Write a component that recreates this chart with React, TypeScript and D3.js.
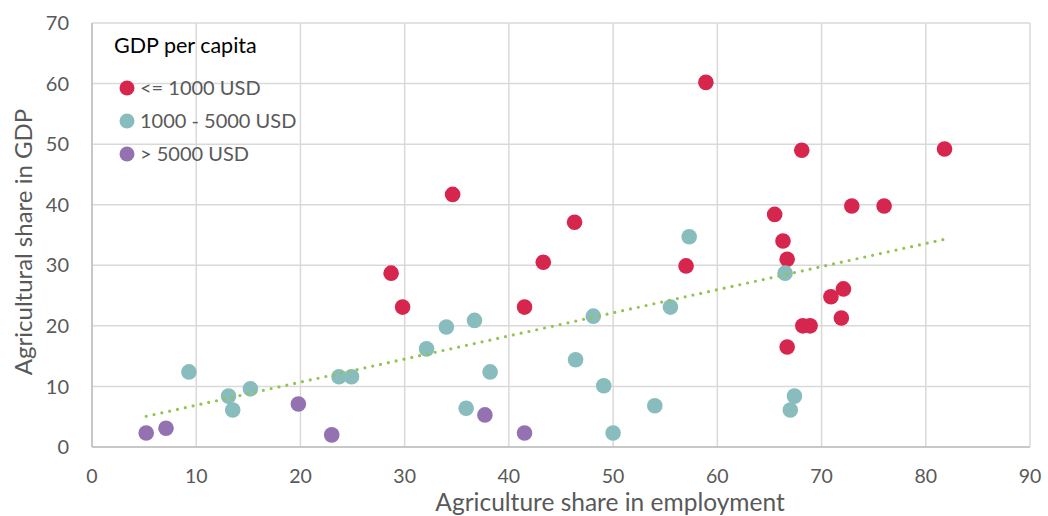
import React from 'react';
import * as d3 from 'd3';

// employment share (x) / GDP share (y) per income group
const lowX = [28.7, 29.8, 34.6, 41.5, 43.3, 46.3, 57.0, 58.9, 68.1, 81.8, 72.9, 76.0, 65.5, 66.3, 66.7, 72.1, 70.9, 71.9, 68.2, 68.9, 66.7];
const lowY = [28.7, 23.1, 41.7, 23.1, 30.5, 37.1, 29.9, 60.2, 49.0, 49.2, 39.8, 39.8, 38.4, 34.0, 31.0, 26.1, 24.8, 21.3, 20.0, 20.0, 16.5];

const midX = [9.3, 13.1, 13.5, 15.2, 23.7, 24.9, 32.1, 38.2, 35.9, 34.0, 36.7, 48.1, 46.4, 49.1, 50.0, 54.0, 55.5, 57.3, 66.5, 67.4, 67.0];
const midY = [12.4, 8.4, 6.1, 9.6, 11.6, 11.6, 16.2, 12.4, 6.4, 19.8, 20.9, 21.6, 14.4, 10.1, 2.3, 6.8, 23.1, 34.7, 28.7, 8.4, 6.1];

const highX = [5.2, 7.1, 19.8, 23.0, 37.7, 41.5];
const highY = [2.3, 3.1, 7.1, 2.0, 5.3, 2.3];

const xTicks = [0, 10, 20, 30, 40, 50, 60, 70, 80, 90];
const yTicks = [0, 10, 20, 30, 40, 50, 60, 70];

const groups = [
  { name: '<= 1000 USD', color: '#d7264e', xs: lowX, ys: lowY },
  { name: '1000 - 5000 USD', color: '#88bcbd', xs: midX, ys: midY },
  { name: '> 5000 USD', color: '#9471b0', xs: highX, ys: highY },
];

const W = 1048;
const H = 516;
const margin = { top: 23, right: 18, bottom: 69, left: 92 };
const font = 'Lato, "Open Sans", sans-serif';

export default function App() {
  const x = d3.scaleLinear().domain([0, 90]).range([margin.left, W - margin.right]);
  const y = d3.scaleLinear().domain([0, 70]).range([H - margin.bottom, margin.top]);

  // linear trend over all points (as the spreadsheet trendline does)
  const allX = [...lowX, ...midX, ...highX];
  const allY = [...lowY, ...midY, ...highY];
  const mx = d3.mean(allX)!;
  const my = d3.mean(allY)!;
  const slope = d3.sum(allX, (v, i) => (v - mx) * (allY[i] - my)) / d3.sum(allX, v => (v - mx) ** 2);
  const icpt = my - slope * mx;
  const [x0, x1] = d3.extent(allX) as [number, number];
  const trend = d3.line<number>().x(v => x(v)).y(v => y(icpt + slope * v))([x0, x1]);

  return (
    <svg width={W} height={H} style={{ position: 'fixed', left: 0, top: 0, display: 'block', fontFamily: font }}>
      <rect width={W} height={H} fill="#fff" />
      {xTicks.map(t => (
        <line key={'gx' + t} x1={x(t)} x2={x(t)} y1={y(0)} y2={y(70)} stroke="#d9d9d9" strokeWidth={1.5} />
      ))}
      {yTicks.map(t => (
        <line key={'gy' + t} x1={x(0)} x2={x(90)} y1={y(t)} y2={y(t)} stroke="#d9d9d9" strokeWidth={1.5} />
      ))}
      <line x1={x(0)} x2={x(0)} y1={y(0)} y2={y(70)} stroke="#bfbfbf" strokeWidth={1.5} />
      <line x1={x(0)} x2={x(90)} y1={y(0)} y2={y(0)} stroke="#bfbfbf" strokeWidth={1.5} />

      {yTicks.map(t => (
        <text key={'ty' + t} x={x(0) - 23} y={y(t)} dy="0.36em" textAnchor="end" fontSize={20} fill="#595959">{t}</text>
      ))}
      {xTicks.map(t => (
        <text key={'tx' + t} x={x(t)} y={y(0) + 36} textAnchor="middle" fontSize={19.5} fill="#595959">{t}</text>
      ))}

      {groups.map(g => g.xs.map((v, i) => (
        <circle key={g.name + i} cx={x(v)} cy={y(g.ys[i])} r={7.8} fill={g.color} />
      )))}

      <path d={trend ?? ''} fill="none" stroke="#92c450" strokeWidth={3.2} strokeDasharray="0 8" strokeLinecap="round" />

      <text x={114} y={53} fontSize={21.5} fill="#000">GDP per capita</text>
      {groups.map((g, i) => (
        <g key={'lg' + g.name} transform={`translate(127,${88 + i * 33})`}>
          <circle r={7.5} fill={g.color} />
          <text x={13} dy="0.36em" fontSize={20} fill="#595959">{g.name}</text>
        </g>
      ))}

      <text x={610} y={511} textAnchor="middle" fontSize={24.5} fill="#595959">Agriculture share in employment</text>
      <text transform={`translate(32,242) rotate(-90)`} textAnchor="middle" fontSize={24} fill="#595959">Agricultural share in GDP</text>
    </svg>
  );
}
